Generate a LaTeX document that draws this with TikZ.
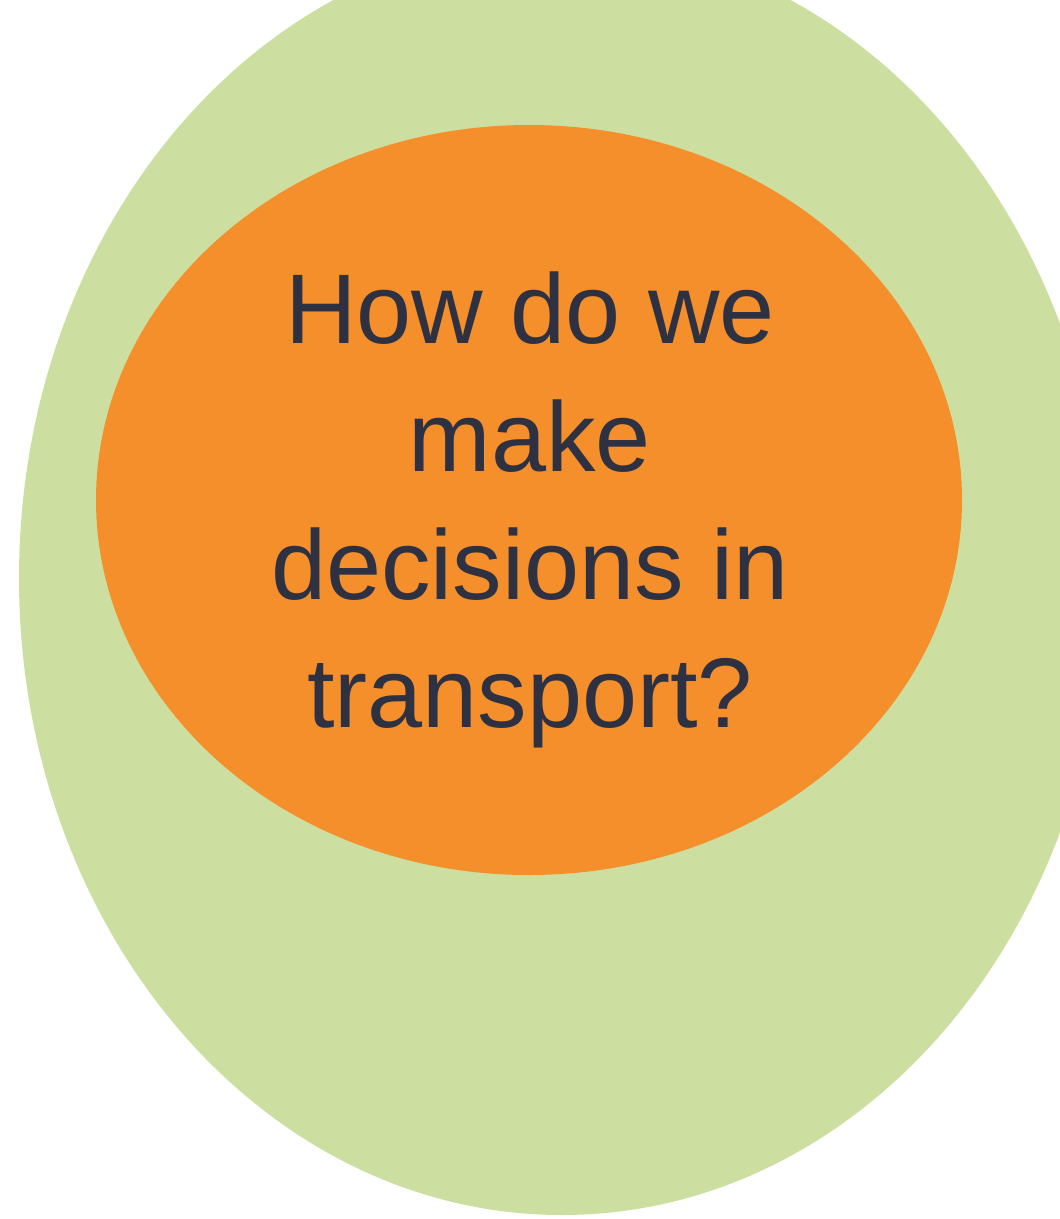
\documentclass[tikz,border=0pt]{standalone}
\usepackage{fontspec}
\setmainfont{Liberation Sans}
\definecolor{leaf}{HTML}{CDDFA0}
\definecolor{sun}{HTML}{F48F2C}
\definecolor{ink}{HTML}{2E3142}
\tikzset{
  blob/.style={draw=none},
  question/.style={text=ink, align=center, font=\fontsize{99}{128}\selectfont, inner sep=0pt}
}
\begin{document}
\begin{tikzpicture}[x=1pt,y=-1pt]
\useasboundingbox (0,0) rectangle (1060,1219);
\clip (0,0) rectangle (1060,1219);
\fill[white] (0,0) rectangle (1060,1219);
\fill[leaf, blob] (562,578) ellipse [x radius=543, y radius=637];
\fill[sun, blob] (529,500) ellipse [x radius=433, y radius=375];
\node[question, anchor=base] (q) at (530,727) {How do we\\make\\decisions in\\transport?};
\end{tikzpicture}
\end{document}
